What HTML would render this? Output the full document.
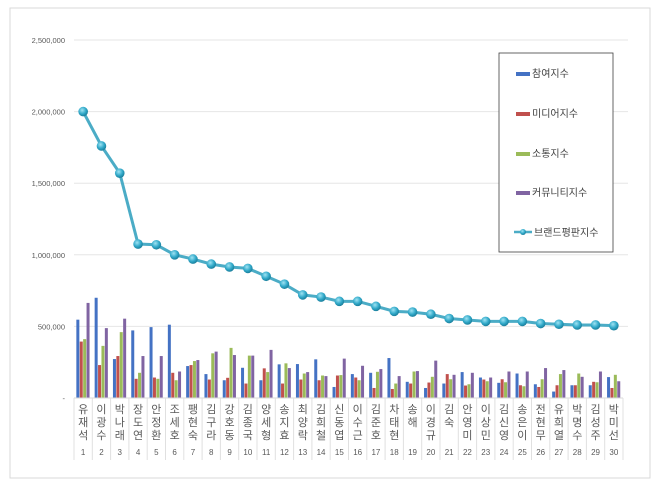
<!DOCTYPE html>
<html><head><meta charset="utf-8"><style>
body{margin:0;background:#fff;}
svg{display:block;font-family:"Liberation Sans","Noto Sans CJK KR",sans-serif;}
</style></head><body>
<svg id="chart" width="660" height="485" viewBox="0 0 660 485">
<defs>
<radialGradient id="mk" cx="40%" cy="35%" r="65%"><stop offset="0" stop-color="#9fe3f3"/><stop offset="0.6" stop-color="#31a9c9"/><stop offset="1" stop-color="#1b7f9c"/></radialGradient>
</defs>
<rect x="10" y="8" width="640" height="470" fill="#fff" stroke="#d9d9d9"/>
<g id="grid"></g><g id="bars"></g><g id="xaxis"></g><g id="line"></g>
<g>
<rect x="499" y="53" width="114" height="199" fill="#fff" stroke="#404040" stroke-width="0.8"/>
<rect x="516" y="72" width="14" height="4" fill="#4472c4"/><text x="532" y="77" font-size="10" fill="#404040">참여지수</text>
<rect x="516" y="112" width="14" height="4" fill="#c0504d"/><text x="532" y="117" font-size="10" fill="#404040">미디어지수</text>
<rect x="516" y="152" width="14" height="4" fill="#9bbb59"/><text x="532" y="157" font-size="10" fill="#404040">소통지수</text>
<rect x="516" y="191" width="14" height="4" fill="#8064a2"/><text x="532" y="196" font-size="10" fill="#404040">커뮤니티지수</text>
<line x1="514" y1="232" x2="532" y2="232" stroke="#4bacc6" stroke-width="2.5"/><circle cx="523" cy="232" r="3" fill="url(#mk)"/><text x="534" y="236" font-size="10" fill="#404040">브랜드평판지수</text>
</g>
</svg>
<script>
const names=["유재석","이광수","박나래","장도연","안정환","조세호","팽현숙","김구라","강호동","김종국","양세형","송지효","최양락","김희철","신동엽","이수근","김준호","차태현","송해","이경규","김숙","안영미","이상민","김신영","송은이","전현무","유희열","박명수","김성주","박미선"];
const participation=[547,700,272,472,495,512,223,167,124,211,124,235,237,270,77,167,176,279,113,70,101,181,143,106,171,96,45,89,89,146];
const media=[394,230,293,134,143,176,230,129,141,101,207,101,129,124,157,143,70,63,101,108,167,87,129,131,89,77,89,89,113,70];
const communication=[411,364,460,176,134,124,258,312,350,296,181,242,171,157,160,124,183,101,185,148,131,96,117,110,82,131,167,171,110,162];
const community=[664,488,554,293,293,185,265,324,300,296,336,209,181,153,275,225,202,153,188,261,162,176,143,185,185,209,195,148,185,117];
const brand=[2000,1760,1570,1075,1070,1000,970,935,915,905,850,795,720,705,675,675,640,605,600,585,555,545,535,535,535,520,515,510,510,505];
const yTicks=[0,500000,1000000,1500000,2000000,2500000];
const yTickLabels=["-","500,000","1,000,000","1,500,000","2,000,000","2,500,000"];
const NS="http://www.w3.org/2000/svg";
const plotL=74,plotR=623,plotT=40,plotB=398,maxV=2500000;
const step=(plotR-plotL)/names.length;
const yS=v=>plotB-(v/maxV)*(plotB-plotT);
const xc=i=>plotL+step*(i+0.5);
function mk(tag,attrs,parent,txt){const e=document.createElementNS(NS,tag);for(const k in attrs)e.setAttribute(k,attrs[k]);if(txt!==undefined)e.textContent=txt;parent.appendChild(e);return e;}
const grid=document.getElementById('grid');
yTicks.forEach((t,i)=>{
 if(i>0){const l=mk('line',{x1:plotL,x2:plotR+5,y1:yS(t),y2:yS(t),stroke:'#e6e6e6','stroke-width':1},grid);
 
 }
 const tx=mk('text',{x:65,y:yS(t)+3,'font-size':7.5,fill:'#595959','text-anchor':'end'},grid,yTickLabels[i]);
 
 
});
const bars=document.getElementById('bars');
const series=[[participation,'#4472c4'],[media,'#c0504d'],[communication,'#9bbb59'],[community,'#8064a2']];
const bw=3.4;
names.forEach((n,i)=>{
 series.forEach((s,j)=>{
  const v=s[0][i]*1000;const bx=xc(i)-2*bw+j*bw;
  const r=mk('rect',{x:bx,y:yS(v),width:bw-0.4,height:plotB-yS(v),fill:s[1]},bars);
  
  
 });
});
const xa=document.getElementById('xaxis');
mk('line',{x1:plotL,x2:plotR,y1:plotB,y2:plotB,stroke:'#d9d9d9'},xa);
for(let i=0;i<=names.length;i++){mk('line',{x1:plotL+step*i,x2:plotL+step*i,y1:plotB,y2:460,stroke:'#e0e0e0'},xa);}
names.forEach((n,i)=>{
 const g=mk('text',{x:xc(i),y:413,'font-size':11,fill:'#595959','text-anchor':'middle'},xa);
 
 
 [...n].forEach((c,k)=>{mk('tspan',{x:xc(i),y:413+k*13},g,c);});
 const nt=mk('text',{x:xc(i),y:455,'font-size':8,fill:'#595959','text-anchor':'middle'},xa,String(i+1));
 
 
});
const lg=document.getElementById('line');
const pts=brand.map((v,i)=>xc(i)+','+yS(v*1000)).join(' ');
const pl=mk('polyline',{points:pts,fill:'none',stroke:'#4bacc6','stroke-width':3},lg);


brand.forEach((v,i)=>{
 const c=mk('circle',{cx:xc(i),cy:yS(v*1000),r:4.8,fill:'url(#mk)'},lg);
 
 
});
</script>
</body></html>
